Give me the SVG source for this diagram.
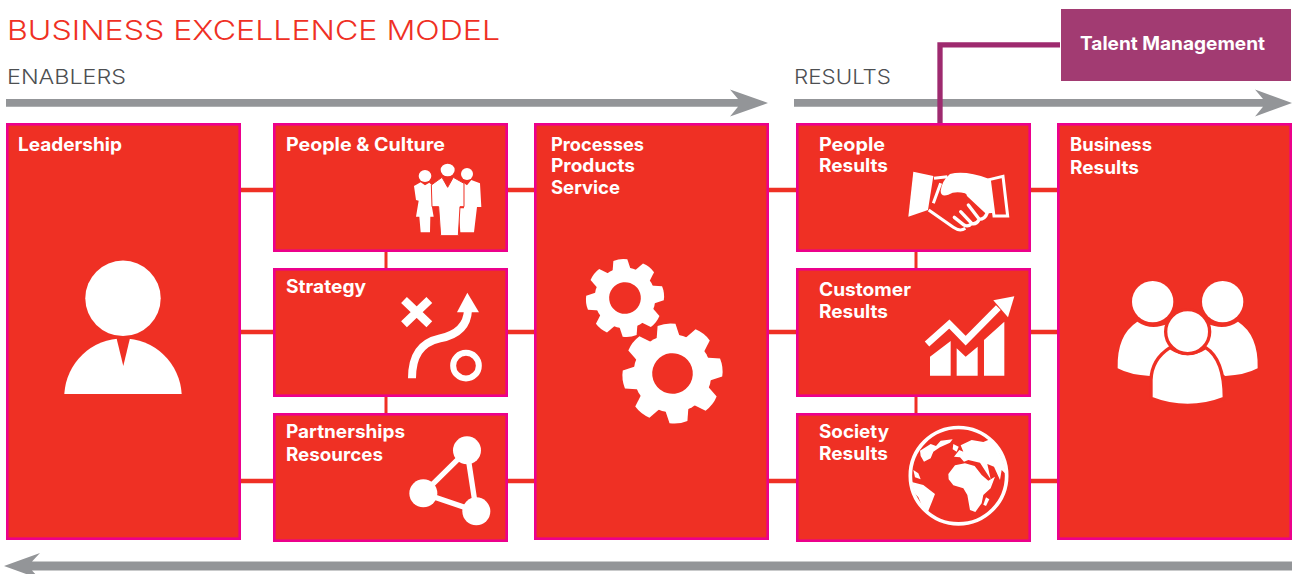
<svg xmlns="http://www.w3.org/2000/svg" xmlns:xlink="http://www.w3.org/1999/xlink" width="1292" height="574" viewBox="0 0 1292 574">
<style>
text{font-family:Inter,"Open Sans","Liberation Sans",sans-serif}
.box{fill:#ef3024;stroke:#ec008c;stroke-width:2.6}
.lab{fill:#fff;font-size:18.5px;font-weight:700}
.head{fill:#4d4f52;font-size:20.5px;font-weight:300}
.w{fill:#fff}
.r{fill:#ef3024}
.ws{fill:none;stroke:#fff}
.link{stroke:#ef3024;fill:none}
.arrow{fill:#939598}
</style>
<defs>
<path id="tooth" d="M-12,-34 L-9,-49 Q0,-51.500 9,-49 L12,-34Z" fill="#fff"/>
<g id="gear">
<circle r="39" fill="#fff"/>
<use xlink:href="#tooth" href="#tooth"/>
<use xlink:href="#tooth" href="#tooth" transform="rotate(45)"/>
<use xlink:href="#tooth" href="#tooth" transform="rotate(90)"/>
<use xlink:href="#tooth" href="#tooth" transform="rotate(135)"/>
<use xlink:href="#tooth" href="#tooth" transform="rotate(180)"/>
<use xlink:href="#tooth" href="#tooth" transform="rotate(225)"/>
<use xlink:href="#tooth" href="#tooth" transform="rotate(270)"/>
<use xlink:href="#tooth" href="#tooth" transform="rotate(315)"/>
<circle r="20.300" fill="#ef3024"/>
</g>
<clipPath id="globeClip"><circle cx="175.500" cy="167" r="141"/></clipPath>
</defs>

<text x="7" y="40" font-size="27.500" font-weight="300" fill="#ef3024" textLength="493" lengthAdjust="spacingAndGlyphs">BUSINESS EXCELLENCE MODEL</text>
<text class="head" x="7" y="84" textLength="119" lengthAdjust="spacingAndGlyphs">ENABLERS</text>
<text class="head" x="794" y="84" textLength="97" lengthAdjust="spacingAndGlyphs">RESULTS</text>

<g id="flow-arrows">
<path class="arrow" d="M6,99H738L730,89.500L768,103L730,116.500L738,106.800H6Z"/>
<path class="arrow" d="M794,99H1263L1255,89.500L1292,103L1255,116.500L1263,106.800H794Z"/>
<path class="arrow" d="M1292,561.500H32L40,553L4,566L40,579L32,570.500H1292Z"/>
</g>

<g id="connectors">
<g class="link" stroke-width="4.500">
<path d="M241,190H273M241,332H273M241,481H273"/>
<path d="M508,190H534M508,332H534M508,481H534"/>
<path d="M769,190H796M769,332H796M769,481H796"/>
<path d="M1031,190H1057M1031,332H1057M1031,481H1057"/>
</g>
<g class="link" stroke-width="3">
<path d="M386,252V268M386,397V413M916,252V268M916,397V413"/>
</g>
<path d="M940,124V44.800H1060" fill="none" stroke="#9e2a6f" stroke-width="5.300"/>
</g>

<g id="talent-management">
<rect x="1061" y="9" width="230" height="72" fill="#a23b72"/>
<text class="lab" x="1080" y="50" textLength="185" lengthAdjust="spacingAndGlyphs">Talent Management</text>
</g>

<g id="leadership">
<rect class="box" x="7.300" y="124.300" width="232.400" height="414.400"/>
<text class="lab" x="18" y="151" textLength="104" lengthAdjust="spacingAndGlyphs">Leadership</text>
<circle class="w" cx="123" cy="298.300" r="37.700"/>
<path class="w" d="M64.300,394A58.800,59 0 0 1 181.700,394Z"/>
<path class="r" d="M116,336H130.500L123.300,366Z"/>
</g>

<g id="people-culture">
<rect class="box" x="274.300" y="124.300" width="232.400" height="126.400"/>
<text class="lab" x="286" y="151" textLength="159" lengthAdjust="spacingAndGlyphs">People &amp; Culture</text>
<g transform="translate(400,150) scale(0.3333)">
<ellipse class="w" cx="75" cy="78" rx="19" ry="18"/>
<path class="w" d="M42,108L62,97L75,106L88,98L96,106V172L101,200H91L90,247H62L58,200H48L56,152L48,150Z"/>
<ellipse class="w" cx="201" cy="72" rx="18" ry="18"/>
<path class="w" d="M190,98L201,106L214,90L240,100L244,171H231L222,247H181L176,175H192Z"/>
<ellipse class="w" cx="143" cy="60" rx="21" ry="19"/>
<path class="w" d="M94,105L126,82L143,112L160,82L192,100V170H180L175,257H122L116,170H96Z" stroke="#ef3024" stroke-width="3"/>
</g>
</g>

<g id="strategy">
<rect class="box" x="274.300" y="269.300" width="232.400" height="126.400"/>
<text class="lab" x="286" y="293" textLength="80" lengthAdjust="spacingAndGlyphs">Strategy</text>
<g transform="translate(390,280) scale(0.3333)">
<path class="ws" stroke-width="25" d="M42,60L118,133M118,60L42,133"/>
<path class="ws" stroke-width="24" d="M66,295C66,230 90,188 150,175C200,165 232,140 234,90"/>
<path class="w" d="M232,38L267,97H201Z"/>
<circle class="ws" stroke-width="18" cx="228" cy="257" r="38.500"/>
</g>
</g>

<g id="partnerships-resources">
<rect class="box" x="274.300" y="414.300" width="232.400" height="126.400"/>
<text class="lab" x="286" y="438" textLength="119" lengthAdjust="spacingAndGlyphs">Partnerships</text>
<text class="lab" x="286" y="461" textLength="97" lengthAdjust="spacingAndGlyphs">Resources</text>
<g transform="translate(400,425) scale(0.3333)">
<path class="ws" stroke-width="16" d="M201,76L70,205L229,259Z"/>
<circle class="w" cx="201" cy="76" r="42"/>
<circle class="w" cx="70" cy="205" r="42"/>
<circle class="w" cx="229" cy="259" r="42"/>
</g>
</g>

<g id="processes-products-service">
<rect class="box" x="535.300" y="124.300" width="232.400" height="414.400"/>
<text class="lab" x="551" y="151" textLength="93" lengthAdjust="spacingAndGlyphs">Processes</text>
<text class="lab" x="551" y="172" textLength="84" lengthAdjust="spacingAndGlyphs">Products</text>
<text class="lab" x="551" y="194" textLength="69" lengthAdjust="spacingAndGlyphs">Service</text>
<use xlink:href="#gear" href="#gear" transform="translate(625,298) rotate(-7) scale(0.78)"/>
<use xlink:href="#gear" href="#gear" transform="translate(672.500,373.500) rotate(-7)"/>
</g>

<g id="people-results">
<rect class="box" x="797.300" y="124.300" width="232.400" height="126.400"/>
<text class="lab" x="819" y="151" textLength="66" lengthAdjust="spacingAndGlyphs">People</text>
<text class="lab" x="819" y="172" textLength="69" lengthAdjust="spacingAndGlyphs">Results</text>
<g transform="translate(900,160) scale(0.3333)">
<path class="w" d="M40,35L100,48L84,150L25,170Z"/>
<path class="ws" stroke-width="9" d="M268,59L309,49L323,168L282,168Z"/>
<path class="w" d="M122,92Q126,62 150,42Q195,30 266,56L280,158L268,160L195,100Q165,92 145,104Q122,112 122,92Z"/>
<path class="ws" stroke-width="9" d="M102,55L142,50M86,150L160,202Q180,216 196,205M122,70L100,130"/>
<path class="ws" stroke-width="10" stroke-linecap="round" d="M163,172L192,195Q205,202 215,190L182,155M215,190Q228,195 238,178L205,135M238,178Q255,178 262,158L205,105"/>
</g>
</g>

<g id="customer-results">
<rect class="box" x="797.300" y="269.300" width="232.400" height="126.400"/>
<text class="lab" x="819" y="296" textLength="92" lengthAdjust="spacingAndGlyphs">Customer</text>
<text class="lab" x="819" y="318" textLength="69" lengthAdjust="spacingAndGlyphs">Results</text>
<g transform="translate(915,285) scale(0.3333)">
<path class="ws" stroke-width="20" d="M36,177L103,117L152,167L250,68"/>
<path class="w" d="M235,46L298,34L279,97Z"/>
<path class="w" d="M45,215L107,168V272H45ZM125,190L152,215L188,185V272H125ZM207,165L268,110V272H207Z"/>
</g>
</g>

<g id="society-results">
<rect class="box" x="797.300" y="414.300" width="232.400" height="126.400"/>
<text class="lab" x="819" y="438" textLength="70" lengthAdjust="spacingAndGlyphs">Society</text>
<text class="lab" x="819" y="460" textLength="69" lengthAdjust="spacingAndGlyphs">Results</text>
<g transform="translate(900,420) scale(0.3333)">
<circle class="ws" stroke-width="11" cx="175.500" cy="167" r="144.500"/>
<g clip-path="url(#globeClip)">
<path class="w" d="M60,92L92,72L108,78L122,62L158,58L150,68L120,82L100,95L92,115L72,125L62,108Z"/>
<path class="w" d="M160,72L176,80L170,95L158,88Z"/>
<path class="w" d="M40,150L55,160L62,178L45,172Z"/>
<path class="w" d="M35,186L70,195L105,222L96,245L82,280L68,262L55,232L35,210Z"/>
<path class="w" d="M145,162L165,136L195,130L224,138L245,165L265,182L285,170L272,205L250,225L245,250L226,276L210,270L202,225L190,205L160,196L146,178Z"/>
<path class="w" d="M162,110L178,90L190,95L182,76L215,60L250,66L270,58L330,90V175L305,150L300,180L282,140L262,132L272,178L240,128L205,120L192,125L180,112Z"/>
<path class="w" d="M258,232L268,238L258,258L250,254Z"/>
</g>
</g>
</g>

<g id="business-results">
<rect class="box" x="1058.300" y="124.300" width="232.400" height="414.400"/>
<text class="lab" x="1070" y="151" textLength="82" lengthAdjust="spacingAndGlyphs">Business</text>
<text class="lab" x="1070" y="174" textLength="69" lengthAdjust="spacingAndGlyphs">Results</text>
<g transform="translate(1100,270) scale(0.3333)">
<circle class="w" cx="158" cy="95" r="62"/>
<circle class="w" cx="368" cy="95" r="62"/>
<path class="w" d="M53,295Q50,195 112,155Q155,185 205,160L260,240L150,318Q90,315 53,295Z"/>
<path class="w" d="M473,295Q476,195 414,155Q371,185 321,160L266,240L376,318Q436,315 473,295Z"/>
<path class="w" d="M153,385V330Q155,268 210,233Q263,268 317,233Q373,268 373,385Q263,428 153,385Z" stroke="#ef3024" stroke-width="10"/>
<circle class="w" cx="263" cy="185" r="66" stroke="#ef3024" stroke-width="10"/>
</g>
</g>
</svg>
